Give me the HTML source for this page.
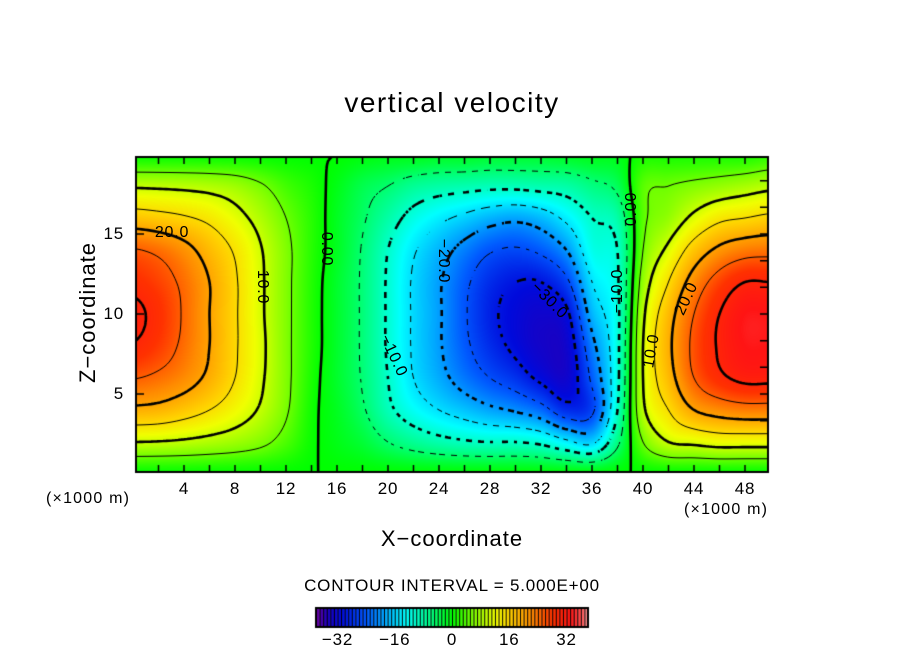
<!DOCTYPE html>
<html><head><meta charset="utf-8">
<style>
body{margin:0;background:#fff;width:904px;height:654px;overflow:hidden;position:relative;font-family:"Liberation Sans",sans-serif;}
.t{position:absolute;color:#000;white-space:nowrap;}
canvas{position:absolute;left:0;top:0;}
</style></head>
<body>
<canvas id="c" width="904" height="654"></canvas>
<div class="t" style="left:0;width:904px;text-align:center;top:87px;font-size:28px;letter-spacing:1.5px;">vertical velocity</div>
<div class="t" style="left:0;width:904px;text-align:center;top:526px;font-size:22px;letter-spacing:1px;">X&#8722;coordinate</div>
<div class="t" style="left:18px;top:300px;width:140px;text-align:center;font-size:22px;letter-spacing:1px;transform:rotate(-90deg);">Z&#8722;coordinate</div>
<div class="t" style="left:46px;top:490px;font-size:16px;letter-spacing:1.2px;">(×1000 m)</div>
<div class="t" style="left:684px;top:501px;font-size:16px;letter-spacing:1.2px;">(×1000 m)</div>
<div class="t" style="left:0;width:904px;text-align:center;top:576px;font-size:17px;letter-spacing:0.8px;">CONTOUR INTERVAL = 5.000E+00</div>
<div id="labels"></div>
<script>
// grid coordinates (×1000 m)
const xCoords = [0,2,4,6,8,10,12,14,16,18,20,22,24,26,28,30,32,34,36,38,40,42,44,46,48,50];
const zCoords = [0,2,4,6,8,10,12,14,16,18,20];
// vertical velocity per x column, listed bottom (z=0) to top (z=20)
const wByColumn = [
[0,10,19,25.2,29.7,31,28.7,25.3,17.2,9.5,0],
[0,9.8,18.5,24,27.5,28.5,27,24,16.5,9.3,0],
[0,9.3,17,22,24,24.5,24,21.5,15.5,9,0],
[0,8.5,15,19,20,20,20,18,14,8.5,0],
[0,7.5,12.5,15,15.5,15.5,15.5,14.5,11.5,7.5,0],
[0,6,9.5,10.7,11,10.7,10.7,10.3,8.5,5.5,0],
[0,3.5,5.5,6,6,6,6,6,5,3,0],
[0,0.5,0.8,1.2,1.5,1.5,1.6,1.8,1.8,1.2,0],
[0,-1,-1.5,-2,-2,-2,-2,-1.5,-1.5,-1,0],
[0,-2.5,-4.5,-5.3,-5.5,-5.5,-5.5,-5.3,-4.5,-3.5,-0.5],
[0,-5,-9,-10,-10.5,-10.5,-10.5,-10,-8,-5,-1],
[0,-7,-12.5,-15,-15.5,-15.5,-15.5,-14.5,-11.5,-7,-1],
[0,-8.5,-15,-18.5,-19.5,-19.5,-19.5,-18,-14,-8,-1.5],
[0,-9.5,-17,-22,-24,-24.5,-24,-21.5,-16,-8.5,-1.5],
[0,-10,-19,-25,-28,-29,-28,-24.5,-18,-9,-2],
[0,-10,-20.5,-27.5,-31,-31.5,-30,-25.5,-19,-9,-2],
[0,-11,-23,-31,-33.5,-33,-30,-24,-17.5,-8.5,-2],
[0,-14,-28,-33,-33,-31,-26,-20,-14,-8,-1.5],
[0,-16,-26,-24,-21.5,-18,-15,-12,-10,-6,-1],
[0,-6,-10,-11,-11,-11,-10.5,-10,-8,-4,-1],
[0,5,9,10,10,9,7,5,4,4,1],
[0,10,15,18,19,18,15,11,7,5,1],
[0,11,20,25,26,25,22,17,11,6,1],
[0,12,22,29,30.5,30,27,21,14,7,1],
[0,12,23,31,33,33,30,23,15,8,1],
[0,12,23,31,33,33,30,23.5,16,9,2]
];
const xTickLabels = [4,8,12,16,20,24,28,32,36,40,44,48];
const zTickLabels = [5,10,15];
const colorbarTicks = [-32,-16,0,16,32];
const contourLevels = [-30,-25,-20,-15,-10,-5,0,5,10,15,20,25,30];

const cv=document.getElementById('c'),ctx=cv.getContext('2d');
const PL=136,PR=768,PT=157,PB=472;
const X0=133,XS=12.75,Z0=474,ZS=16;
const px=x=>X0+XS*x, pz=z=>Z0-ZS*z;
const ux=p=>(p-X0)/XS, uz=p=>(Z0-p)/ZS;

const stops=[[-38,[110,0,160]],[-35,[30,0,190]],[-31,[0,10,220]],[-24,[0,90,255]],[-18,[0,180,255]],[-13,[0,255,255]],[-6,[0,255,130]],[0,[0,255,0]],[6,[130,255,0]],[12,[240,255,0]],[16,[255,210,0]],[22,[255,140,0]],[28,[255,50,0]],[33,[255,20,20]],[36,[255,80,80]],[38,[255,160,160]]];
function color(v){
  if(v<=stops[0][0])return stops[0][1];
  for(let i=1;i<stops.length;i++){if(v<=stops[i][0]){const a=stops[i-1],b=stops[i],t=(v-a[0])/(b[0]-a[0]);return a[1].map((c,k)=>Math.round(c+(b[1][k]-c)*t));}}
  return stops[stops.length-1][1];
}
function cr(p0,p1,p2,p3,t){return 0.5*((2*p1)+(-p0+p2)*t+(2*p0-5*p1+4*p2-p3)*t*t+(-p0+3*p1-3*p2+p3)*t*t*t);}
function val(ci,zi){ci=Math.max(0,Math.min(xCoords.length-1,ci));zi=Math.max(0,Math.min(zCoords.length-1,zi));return wByColumn[ci][zi];}
function sample(x,z){
  const dx=xCoords[1]-xCoords[0],dz=zCoords[1]-zCoords[0];
  let fx=(x-xCoords[0])/dx,fz=(z-zCoords[0])/dz;
  fx=Math.max(0,Math.min(xCoords.length-1.0001,fx));fz=Math.max(0,Math.min(zCoords.length-1.0001,fz));
  const i=Math.floor(fx),j=Math.floor(fz),tx=fx-i,tz=fz-j;
  const col=[];for(let k=-1;k<=2;k++)col.push(cr(val(i+k,j-1),val(i+k,j),val(i+k,j+1),val(i+k,j+2),tz));
  return cr(col[0],col[1],col[2],col[3],tx);
}
const img=ctx.createImageData(PR-PL,PB-PT);
for(let y=0;y<PB-PT;y++)for(let x=0;x<PR-PL;x++){
  const v=sample(ux(PL+x+0.5),uz(PT+y+0.5)),c=color(v),o=(y*(PR-PL)+x)*4;
  img.data[o]=c[0];img.data[o+1]=c[1];img.data[o+2]=c[2];img.data[o+3]=255;}
ctx.putImageData(img,PL,PT);
const step=3,nx=Math.ceil((PR-PL)/step),nz=Math.ceil((PB-PT)/step);
const F=[];for(let j=0;j<=nz;j++){F.push([]);for(let i=0;i<=nx;i++)F[j].push(sample(ux(PL+i*step),uz(PT+j*step)));}
ctx.save();ctx.beginPath();ctx.rect(PL,PT,PR-PL,PB-PT);ctx.clip();
ctx.strokeStyle='#000';ctx.lineCap='butt';
contourLevels.forEach(L=>{
  const thick=(L%10===0);ctx.lineWidth=thick?2.6:1;
  ctx.beginPath();
  for(let j=0;j<nz;j++)for(let i=0;i<nx;i++){
    const a=F[j][i],b=F[j][i+1],c=F[j+1][i+1],d=F[j+1][i];
    const pts=[];
    const e=(v1,v2,x1,y1,x2,y2)=>{if((v1<L)!==(v2<L)){const t=(L-v1)/(v2-v1);pts.push([x1+(x2-x1)*t,y1+(y2-y1)*t]);}};
    const X=PL+i*step,Y=PT+j*step;
    e(a,b,X,Y,X+step,Y);e(b,c,X+step,Y,X+step,Y+step);e(c,d,X+step,Y+step,X,Y+step);e(d,a,X,Y+step,X,Y);
    if(L<0&&((i+j)%4>1))continue;
    for(let k=0;k+1<pts.length;k+=2){ctx.moveTo(pts[k][0],pts[k][1]);ctx.lineTo(pts[k+1][0],pts[k+1][1]);}
  }
  ctx.stroke();
});
ctx.restore();
ctx.strokeStyle='#000';ctx.lineWidth=2;ctx.strokeRect(PL,PT,PR-PL,PB-PT);
ctx.lineWidth=1.5;ctx.beginPath();
for(let x=2;x<50;x+=2){ctx.moveTo(px(x),PB);ctx.lineTo(px(x),PB-7);ctx.moveTo(px(x),PT);ctx.lineTo(px(x),PT+7);}
zTickLabels.forEach(z=>{ctx.moveTo(PL,pz(z));ctx.lineTo(PL+8,pz(z));});
for(let z=15;z>0.3;z-=5/3){ctx.moveTo(PR,pz(z));ctx.lineTo(PR-8,pz(z));}
for(let z=15+5/3;z<19.7;z+=5/3){ctx.moveTo(PR,pz(z));ctx.lineTo(PR-8,pz(z));}
ctx.stroke();
const CBL=316,CBR=588,CBT=608,CBB=627,vmin=-38,vmax=38;
const cbx=v=>CBL+(v-vmin)/(vmax-vmin)*(CBR-CBL);
for(let v=vmin;v<vmax;v+=1){
  const c=color(v+0.5);ctx.fillStyle=`rgb(${c[0]},${c[1]},${c[2]})`;
  ctx.fillRect(cbx(v),CBT,cbx(v+1)-cbx(v)+0.3,CBB-CBT);
  ctx.fillStyle='#000';ctx.fillRect(cbx(v),CBT,1,CBB-CBT);
}
ctx.lineWidth=2;ctx.strokeRect(CBL,CBT,CBR-CBL,CBB-CBT);
const lab=document.getElementById('labels');
function addText(txt,x,y,size,name,align,rot){
  const d=document.createElement('div');d.className='t';d.textContent=txt;
  
  
  d.style.fontSize=size+'px';d.style.letterSpacing='0.8px';
  d.style.left=(x-60)+'px';d.style.width='120px';d.style.top=(y-size*0.6)+'px';d.style.textAlign=align||'center';
  if(rot)d.style.transform='rotate('+rot+'deg)';
  lab.appendChild(d);return d;}
xTickLabels.forEach(x=>addText(String(x),px(x),489,17,'x-tick-label','center'));
zTickLabels.forEach(z=>{addText(String(z),px(0)-69,pz(z),17,'y-tick-label','right');});
colorbarTicks.forEach(v=>addText(String(v).replace('-','\u2212'),cbx(v),640,17,'colorbar-tick-label','center'));
const cl=[["20.0",172,234,0],["10.0",262,288,90],["0.00",326,250,90],["\u221220.0",443,262,90],["\u221210.0",393,357,65],["\u221230.0",549,302,45],["\u221210.0",618,292,-90],["0.00",632,210,-90],["10.0",652,352,-80],["20.0",687,300,-65]];
cl.forEach(c=>addText(c[0],c[1],c[2],16,'contour-label','center',c[3]));
</script>
</body></html>
